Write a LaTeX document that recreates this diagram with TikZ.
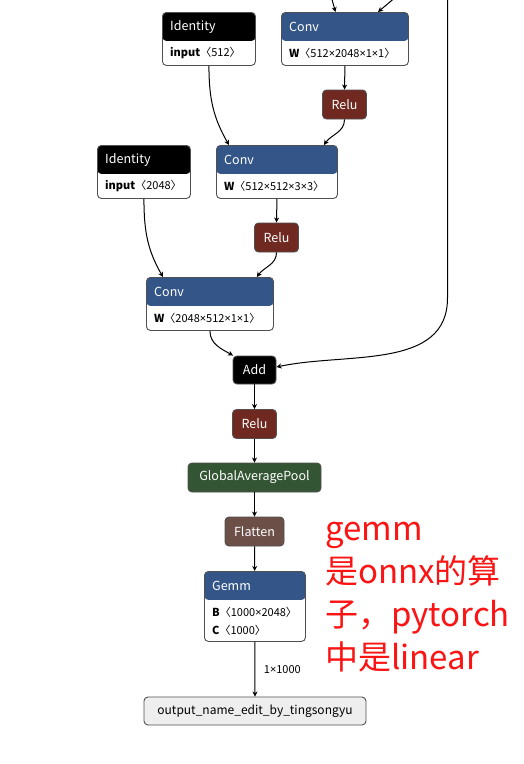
\documentclass[tikz,border=0pt]{standalone}
\usepackage{fontspec}
\setmainfont{Noto Sans CJK SC}
\newfontfamily\symfont{Noto Sans}
\newcommand\dimby{{\symfont ×}}
\usetikzlibrary{arrows.meta}

\definecolor{convblue}{RGB}{51,85,136}
\definecolor{relured}{RGB}{112,41,33}
\definecolor{poolgreen}{RGB}{51,85,51}
\definecolor{flatbrown}{RGB}{108,79,71}
\definecolor{frame}{RGB}{80,80,80}
\definecolor{outfill}{RGB}{238,238,238}
\definecolor{notered}{RGB}{250,20,20}

\tikzset{%
  every op/.style={
    draw=frame,
    line width=0.9pt,
    rounded corners=4pt,
    minimum height=29,
    inner sep=0pt,
    text=white,
    font=\fontsize{12.5}{15}\selectfont
  },
  op relu/.style={fill=relured, minimum width=44},
  op add/.style={fill=black, minimum width=43, minimum height=28},
  op pool/.style={fill=poolgreen, minimum width=133},
  op flatten/.style={fill=flatbrown, minimum width=59},
  op output/.style={
    fill=outfill,
    text=black,
    minimum width=222,
    minimum height=28,
    font=\fontsize{12}{14}\selectfont
  },
  every block/.style={
    draw=frame,
    line width=0.9pt,
    rounded corners=4pt,
    fill=white,
    inner sep=0pt,
    anchor=north west
  },
  block head/.style={
    path picture={
      \fill [#1] (path picture bounding box.north west)
        rectangle ([yshift=-28.5]path picture bounding box.north east);
    }
  },
  head text/.style={
    anchor=west,
    inner sep=0pt,
    text=white,
    font=\fontsize{12.5}{15}\selectfont
  },
  attr text/.style={
    anchor=west,
    inner sep=0pt,
    font=\fontsize{11}{13}\selectfont
  },
  dims text/.style={
    anchor=west,
    inner sep=0pt,
    xshift=8.5,
    font=\fontsize{11}{13}\selectfont
  },
  note text/.style={
    anchor=north west,
    align=left,
    inner sep=0pt,
    text=notered,
    font=\fontsize{33}{43}\selectfont
  },
  link/.style={
    line width=1pt,
    -{Stealth[length=5pt, width=5pt, inset=1.5pt]}
  },
}

\begin{document}
\begin{tikzpicture}[x=1pt, y=-1pt]

\fill [white] (0,0) rectangle (524,764);
\useasboundingbox (0,0) rectangle (524,764);

% BLOCK nodes
\foreach \n/\c/\x/\y/\w/\h in {id1/black/162/12/93/53, conv1/convblue/281/12/127/53,
    id2/black/97/145/93/53, conv2/convblue/216/145/121/53,
    conv3/convblue/146/277/127/53, gemm/convblue/204/571/101/70}
  \node [every block/.try, block head=\c, minimum width=\w, minimum height=\h]
    (\n) at (\x,\y) {};

% BLOCK titles
\foreach \n/\t in {id1/Identity, conv1/Conv, id2/Identity, conv2/Conv, conv3/Conv, gemm/Gemm}
  \node [head text] (\n-head) at ([xshift=8, yshift=-14.5]\n.north west) {\t};

% BLOCK attributes
\foreach \n/\a in {id1/{\textbf{input}〈512〉}, conv1/{\textbf{W}〈512\dimby2048\dimby1\dimby1〉},
    id2/{\textbf{input}〈2048〉}, conv2/{\textbf{W}〈512\dimby512\dimby3\dimby3〉},
    conv3/{\textbf{W}〈2048\dimby512\dimby1\dimby1〉}, gemm/{\textbf{B}〈1000\dimby2048〉}}
  \node [attr text] (\n-attr) at ([xshift=8, yshift=-41]\n.north west) {\a};
\node [attr text] (gemm-bias) at ([xshift=8, yshift=-59]gemm.north west) {\textbf{C}〈1000〉};

% SMALL ops
\node [every op/.try, op relu/.try] (relu1) at (344.5,104.5) {Relu};
\node [every op/.try, op relu/.try] (relu2) at (276.5,237.5) {Relu};
\foreach \n/\m/\t/\y in {add/add/Add/370, relu3/relu/Relu/424,
    gap/pool/GlobalAveragePool/477.5, flat/flatten/Flatten/531.5}
  \node [every op/.try, op \m/.try] (\n) at (254.5,\y) {\t};
\node [every op/.try, op output/.try] (output) at (255,711) {output\_name\_edit\_by\_tingsongyu};

% INCOMING from above
\coordinate (in-a) at (331,-4);
\coordinate (in-b) at (397,-4);
\coordinate (in-c) at (447.5,-4);
\coordinate (bend-c) at (447.5,298);
\draw [link] (in-a) -- ([xshift=54.5]conv1.north west);
\draw [link] (in-b) -- ([xshift=97]conv1.north west);
\draw [link] (in-c) -- (bend-c) to[out=-90, in=12] ([yshift=3]add.east);

% Connections
\draw [link] (conv1.south) -- (relu1.north);
\draw [link] (id1.south) to[out=-90, in=120] ([xshift=13]conv2.north west);
\draw [link] (relu1.south) to[out=-90, in=55] ([xshift=-14]conv2.north east);
\draw [link] (conv2.south) -- (relu2.north);
\draw [link] (id2.south) to[out=-90, in=120] ([xshift=17]conv3.north west);
\draw [link] (relu2.south) to[out=-90, in=55] ([xshift=-17]conv3.north east);
\draw [link] (conv3.south) to[out=-90, in=150] ([xshift=0.5]add.north west);

% MAIN chain
\foreach \a/\b in {add/relu3, relu3/gap, gap/flat, flat/gemm}
  \draw [link] (\a) -- (\b);
\draw [link] (gemm.south) -- node [dims text] (dims) {1\dimby1000} (output.north);

% NOTE
\node [note text] (note) at (325,522) {gemm\\是onnx的算\\子，pytorch\\中是linear};

\end{tikzpicture}
\end{document}
